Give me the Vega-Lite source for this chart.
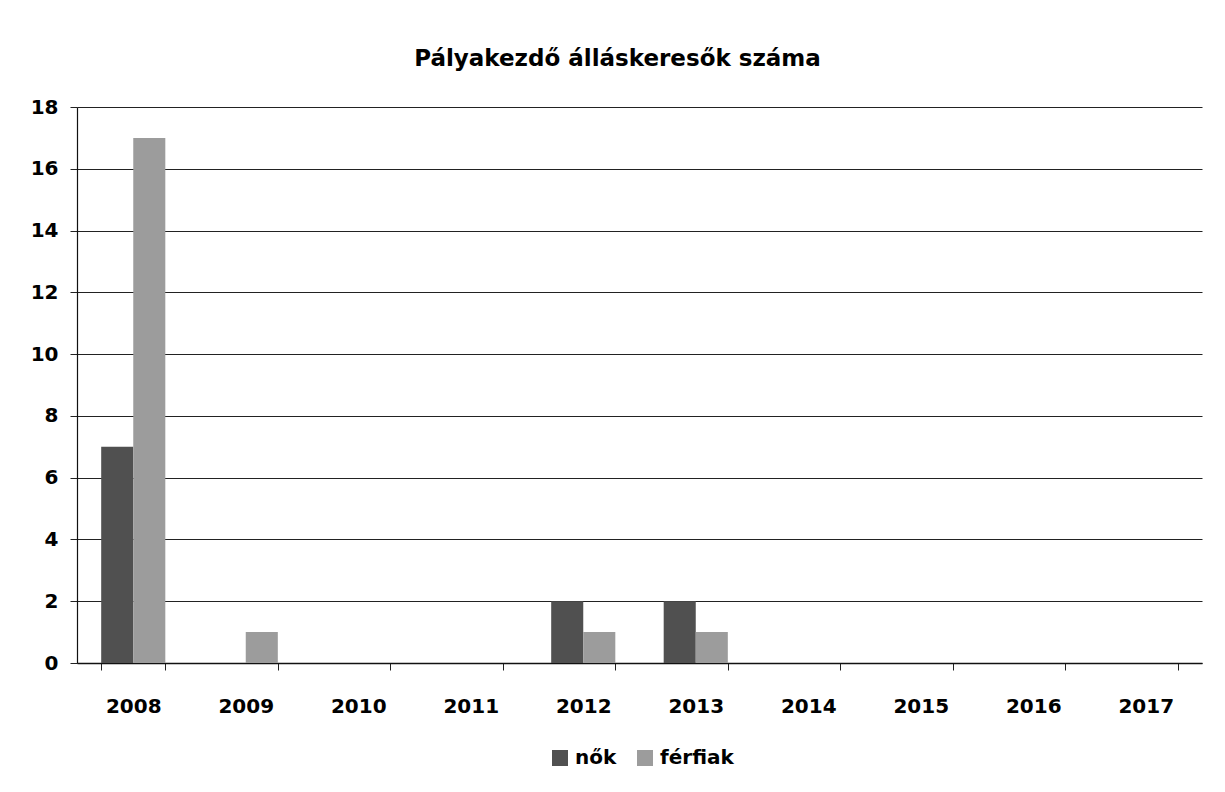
{
  "$schema": "https://vega.github.io/schema/vega-lite/v6.json",
  "autosize": "none",
  "padding": {"left": 77, "top": 107, "right": 23, "bottom": 129},
  "width": 1125,
  "height": 556,
  "background": "white",
  "title": {
    "text": "Pályakezdő álláskeresők száma",
    "font": "DejaVu Sans",
    "fontSize": 23,
    "fontWeight": "bold",
    "color": "black",
    "anchor": "middle",
    "dx": -22,
    "offset": 26
  },
  "data": {
    "values": [
      {"ev": "2008", "nem": "nők", "db": 7},
      {"ev": "2008", "nem": "férfiak", "db": 17},
      {"ev": "2009", "nem": "nők", "db": 0},
      {"ev": "2009", "nem": "férfiak", "db": 1},
      {"ev": "2010", "nem": "nők", "db": 0},
      {"ev": "2010", "nem": "férfiak", "db": 0},
      {"ev": "2011", "nem": "nők", "db": 0},
      {"ev": "2011", "nem": "férfiak", "db": 0},
      {"ev": "2012", "nem": "nők", "db": 2},
      {"ev": "2012", "nem": "férfiak", "db": 1},
      {"ev": "2013", "nem": "nők", "db": 2},
      {"ev": "2013", "nem": "férfiak", "db": 1},
      {"ev": "2014", "nem": "nők", "db": 0},
      {"ev": "2014", "nem": "férfiak", "db": 0},
      {"ev": "2015", "nem": "nők", "db": 0},
      {"ev": "2015", "nem": "férfiak", "db": 0},
      {"ev": "2016", "nem": "nők", "db": 0},
      {"ev": "2016", "nem": "férfiak", "db": 0},
      {"ev": "2017", "nem": "nők", "db": 0},
      {"ev": "2017", "nem": "férfiak", "db": 0}
    ]
  },
  "mark": {"type": "bar"},
  "encoding": {
    "x": {
      "field": "ev",
      "type": "nominal",
      "scale": {"paddingInner": 0.43, "paddingOuter": 0.215},
      "axis": {
        "title": null,
        "labelAngle": 0,
        "labelFont": "DejaVu Sans",
        "labelFontSize": 20,
        "labelFontWeight": "bold",
        "labelColor": "black",
        "labelPadding": 26,
        "tickBand": "extent",
        "tickSize": 7,
        "tickColor": "#222",
        "domainColor": "#111",
        "domainWidth": 1.5,
        "grid": false
      }
    },
    "xOffset": {
      "field": "nem",
      "type": "nominal",
      "sort": ["nők", "férfiak"],
      "scale": {"paddingInner": 0, "paddingOuter": 0}
    },
    "y": {
      "field": "db",
      "type": "quantitative",
      "scale": {"domain": [0, 18]},
      "axis": {
        "title": null,
        "values": [0, 2, 4, 6, 8, 10, 12, 14, 16, 18],
        "labelFont": "DejaVu Sans",
        "labelFontSize": 20,
        "labelFontWeight": "bold",
        "labelColor": "black",
        "labelPadding": 12,
        "tickSize": 7,
        "tickColor": "#222",
        "domainColor": "#111",
        "domainWidth": 1.2,
        "grid": true,
        "gridColor": "#222",
        "gridWidth": 1
      }
    },
    "color": {
      "field": "nem",
      "type": "nominal",
      "sort": ["nők", "férfiak"],
      "scale": {"domain": ["nők", "férfiak"], "range": ["#505050", "#9c9c9c"]},
      "legend": {
        "title": null,
        "orient": "none",
        "direction": "horizontal",
        "legendX": 473,
        "legendY": 641,
        "symbolType": "square",
        "symbolSize": 256,
        "symbolStrokeWidth": 0,
        "labelFont": "DejaVu Sans",
        "labelFontSize": 20,
        "labelFontWeight": "bold",
        "labelColor": "black",
        "labelOffset": 5,
        "columnPadding": 18
      }
    }
  },
  "config": {
    "view": {"stroke": null}
  }
}
